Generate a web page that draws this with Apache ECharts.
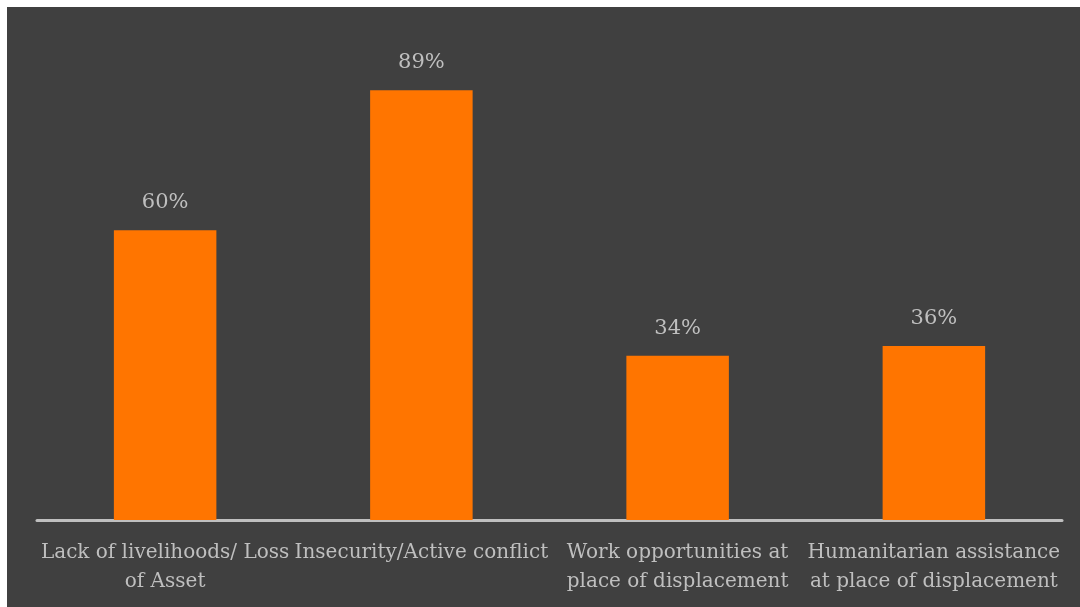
<!DOCTYPE html>
<html>
<head>
<meta charset="utf-8">
<script src="https://cdn.jsdelivr.net/npm/echarts@6/dist/echarts.min.js"></script>
<style>
html,body{margin:0;padding:0;background:#ffffff;width:1080px;height:607px;overflow:hidden;}
#chart{position:absolute;left:7px;top:7px;width:1073px;height:600px;background:#404040;}
</style>
</head>
<body>
<div id="chart"></div>
<script>
const categories = [
  "Lack of livelihoods/ Loss\nof Asset",
  "Insecurity/Active conflict",
  "Work opportunities at\nplace of displacement",
  "Humanitarian assistance\nat place of displacement"
];
const values = [60, 89, 34, 36];

const chart = echarts.init(document.getElementById('chart'), null, {renderer: 'canvas'});
const font = '"DejaVu Serif", serif';
chart.setOption({
  backgroundColor: '#404040',
  animation: false,
  grid: {left: 30, right: 18, top: 30, bottom: 87, containLabel: false},
  xAxis: {
    type: 'category',
    data: categories,
    axisLine: {show: true, lineStyle: {color: '#bfbfbf', width: 3}},
    axisTick: {show: false},
    axisLabel: {color: '#bfbfbf', fontFamily: font, fontSize: 20, lineHeight: 29, margin: 18, interval: 0}
  },
  yAxis: {
    type: 'value', min: 0, max: 100,
    show: false, splitLine: {show: false}
  },
  series: [{
    type: 'bar',
    data: values,
    barWidth: '40%',
    itemStyle: {color: '#ff7500'},
    label: {show: true, position: 'top', distance: 17, color: '#bfbfbf', fontFamily: font, fontSize: 21,
      formatter: p => p.value + '%'}
  }]
});
</script>
</body>
</html>
